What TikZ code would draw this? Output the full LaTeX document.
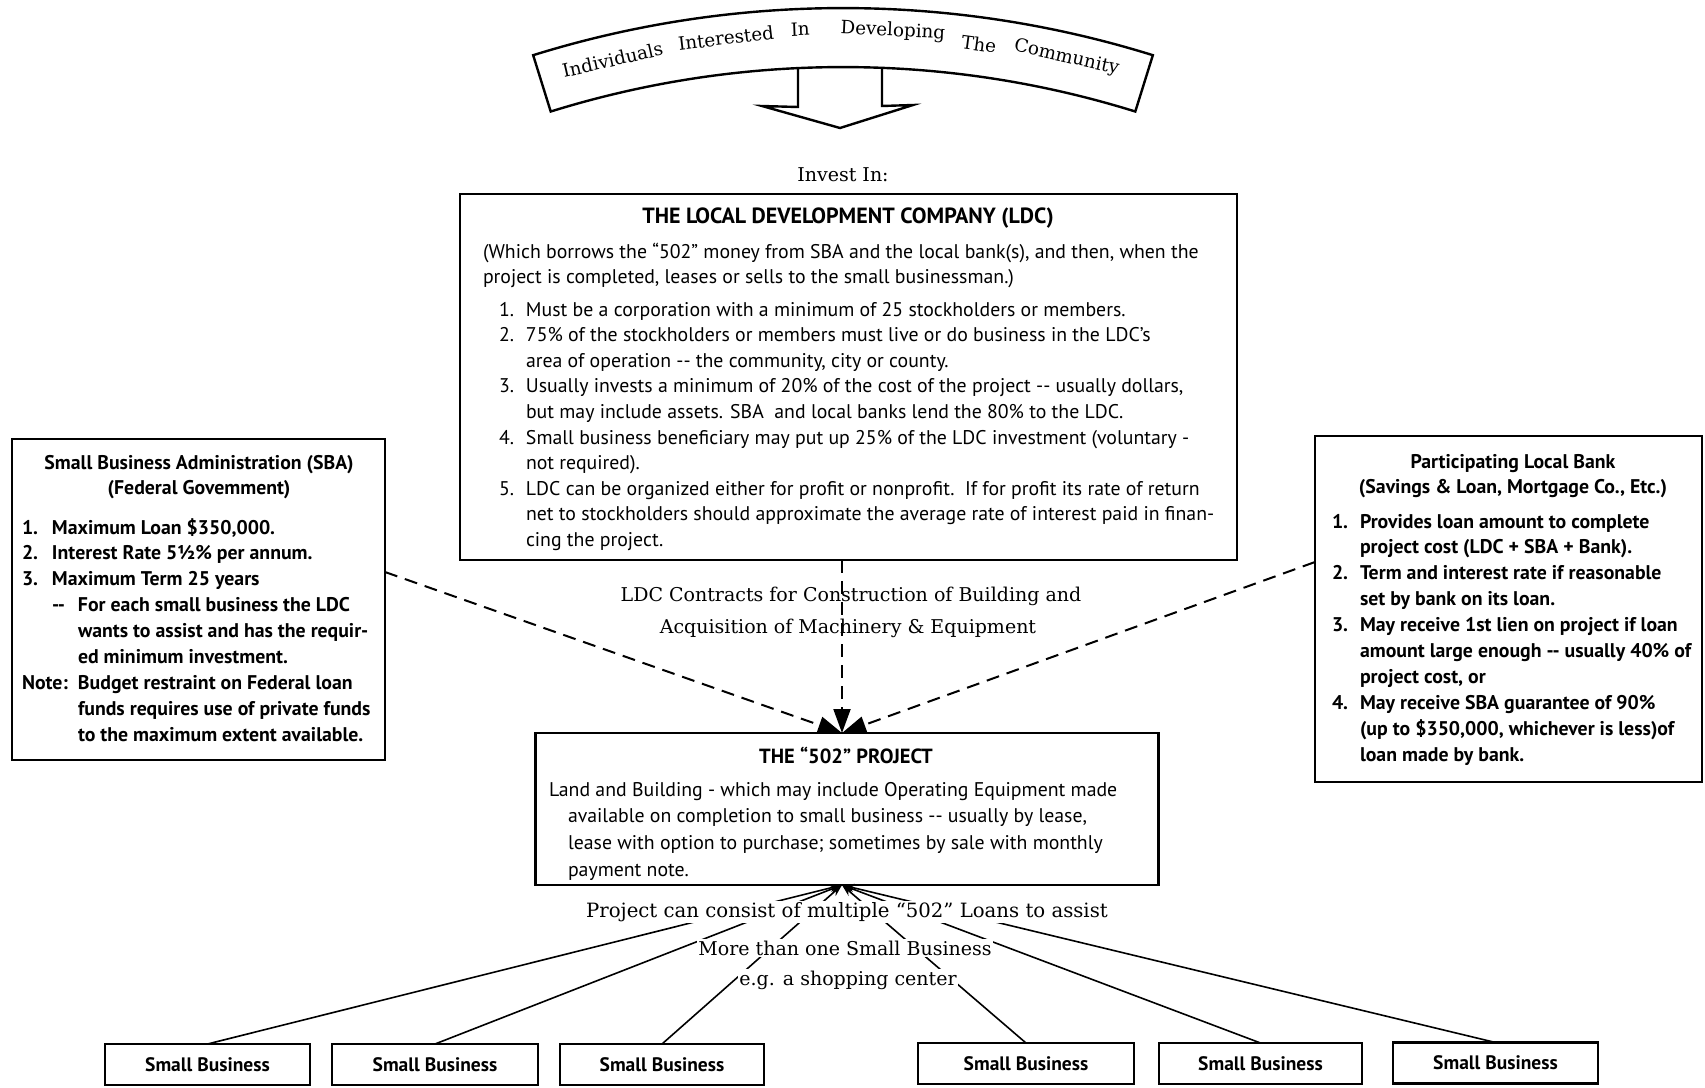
\documentclass[tikz,border=0pt]{standalone}
\usepackage{fontspec}
\newfontfamily\pts{PT Sans}
\newfontfamily\dvs{DejaVu Serif}
\usetikzlibrary{arrows.meta,calc}
\begin{document}
\begin{tikzpicture}[x=1pt,y=-1pt,
  box/.style={draw,line width=2.2pt,inner sep=0pt,outer sep=0pt},
  txt/.style={inner sep=0pt,outer sep=0pt,anchor=base west,align=left},
  ttl/.style={inner sep=0pt,outer sep=0pt,anchor=base},
  bodyA/.style={font=\pts\fontsize{19.8}{25.6}\selectfont},
  bodyB/.style={font=\pts\bfseries\fontsize{19.8}{25.9}\selectfont},
  bodyP/.style={font=\pts\fontsize{19.8}{26.7}\selectfont},
  ttlf/.style={font=\pts\bfseries\fontsize{22}{24}\selectfont},
  ttlg/.style={font=\pts\bfseries\fontsize{20.5}{24}\selectfont},
  serf/.style={font=\dvs\fontsize{19}{24}\selectfont},
  serb/.style={font=\dvs\fontsize{19.7}{24}\selectfont},
  banf/.style={font=\dvs\fontsize{18.3}{22}\selectfont},
  sbf/.style={font=\pts\bfseries\fontsize{19.5}{22}\selectfont},
  dsh/.style={line width=2pt,dash pattern=on 13pt off 8pt,-{Triangle[length=24pt,width=17pt]}},
  fan/.style={line width=1.6pt,-{Stealth[length=12pt,width=8pt]}},
  wtxt/.style={fill=white,inner sep=1.5pt,anchor=center}
]
\useasboundingbox (0,0) rectangle (1705,1087);

% banner with block arrow
\coordinate (bc) at (843,1050);
\draw[line width=2.4pt,line join=miter] (798,66) -- (798,107) -- (762,106) -- (840,128) -- (913,105) -- (882,106) -- (882,66);
\draw[line width=2.4pt,fill=white] ($(bc)+(-107.3:1042)$) arc[start angle=-107.3,end angle=-72.7,radius=1042]
  -- ($(bc)+(-72.7:983)$) arc[start angle=-72.7,end angle=-107.3,radius=983] -- cycle;
\begin{scope}[every node/.style={banf,inner sep=0pt}]
\node[rotate=13] (w1) at ($(bc)+(-103.1:1017)$) {Individuals};
\node[rotate=6.8] (w2) at ($(bc)+(-96.6:1019)$) {Interested};
\node[rotate=2.4] (w3) at ($(bc)+(-92.4:1022)$) {In};
\node[rotate=-2.7] (w4) at ($(bc)+(-87.2:1020)$) {Developing};
\node[rotate=-7.6] (w5) at ($(bc)+(-82.3:1015)$) {The};
\node[rotate=-12.6] (w6) at ($(bc)+(-77.3:1017)$) {Community};
\end{scope}

\node[ttl,serf] (invest) at (843,181) {Invest In:};

% LDC box
\node[box,minimum width=777pt,minimum height=366pt] (ldc) at (848.5,377) {};
\node[ttl,ttlf] (ldct) at (848,223) {THE LOCAL DEVELOPMENT COMPANY (LDC)};
\node[txt,bodyA] (ldcp) at (483,258) {\begin{tabular}[t]{@{}l@{}}
(Which borrows the “502” money from SBA and the local bank(s), and then, when the\\
project is completed, leases or sells to the small businessman.)
\end{tabular}};
\node[txt,bodyA] (ldcl) at (499,316) {\begin{tabular}[t]{@{}l@{}}
\makebox[27pt][l]{1.}Must be a corporation with a minimum of 25 stockholders or members.\\
\makebox[27pt][l]{2.}75\% of the stockholders or members must live or do business in the LDC’s\\
\hspace{27pt}area of operation -{}- the community, city or county.\\
\makebox[27pt][l]{3.}Usually invests a minimum of 20\% of the cost of the project -{}- usually dollars,\\
\hspace{27pt}but may include assets. SBA\ \ and local banks lend the 80\% to the LDC.\\
\makebox[27pt][l]{4.}Small business beneficiary may put up 25\% of the LDC investment (voluntary -\\
\hspace{27pt}not required).\\
\makebox[27pt][l]{5.}LDC can be organized either for profit or nonprofit.\ \ If for profit its rate of return\\
\hspace{27pt}net to stockholders should approximate the average rate of interest paid in finan-\\
\hspace{27pt}cing the project.
\end{tabular}};

% SBA box
\node[box,minimum width=373pt,minimum height=321pt] (sba) at (198.5,599.5) {};
\node[ttl,bodyB] (sbat) at (199,469) {\begin{tabular}[t]{@{}c@{}}
Small Business Administration (SBA)\\ (Federal Govemment)\end{tabular}};
\node[txt,bodyB] (sbal) at (22,534) {\begin{tabular}[t]{@{}l@{}}
\makebox[30pt][l]{1.}Maximum Loan \$350,000.\\
\makebox[30pt][l]{2.}Interest Rate 5½\% per annum.\\
\makebox[30pt][l]{3.}Maximum Term 25 years\\
\hspace{30pt}\makebox[26pt][l]{-{}-}For each small business the LDC\\
\hspace{56pt}wants to assist and has the requir-\\
\hspace{56pt}ed minimum investment.\\
\makebox[56pt][l]{Note:}Budget restraint on Federal loan\\
\hspace{56pt}funds requires use of private funds\\
\hspace{56pt}to the maximum extent available.
\end{tabular}};

% Bank box
\node[box,minimum width=387pt,minimum height=346pt] (bank) at (1508.5,609) {};
\node[ttl,bodyB] (bankt) at (1513,468) {\begin{tabular}[t]{@{}c@{}}
Participating Local Bank\\ (Savings \& Loan, Mortgage Co., Etc.)\end{tabular}};
\node[txt,bodyB] (bankl) at (1332,528) {\begin{tabular}[t]{@{}l@{}}
\makebox[28pt][l]{1.}Provides loan amount to complete\\
\hspace{28pt}project cost (LDC + SBA + Bank).\\
\makebox[28pt][l]{2.}Term and interest rate if reasonable\\
\hspace{28pt}set by bank on its loan.\\
\makebox[28pt][l]{3.}May receive 1st lien on project if loan\\
\hspace{28pt}amount large enough -{}- usually 40\% of\\
\hspace{28pt}project cost, or\\
\makebox[28pt][l]{4.}May receive SBA guarantee of 90\%\\
\hspace{28pt}(up to \$350,000, whichever is less)of\\
\hspace{28pt}loan made by bank.
\end{tabular}};

% 502 project box
\node[box,minimum width=623pt,minimum height=152pt] (proj) at (847,809) {};
\node[ttl,ttlg] (projt) at (846,763) {THE “502” PROJECT};
\node[txt,bodyP] (projb) at (549,796) {\begin{tabular}[t]{@{}l@{}}
Land and Building - which may include Operating Equipment made\\
\hspace{19pt}available on completion to small business -{}- usually by lease,\\
\hspace{19pt}lease with option to purchase; sometimes by sale with monthly\\
\hspace{19pt}payment note.
\end{tabular}};

% dashed connectors
\coordinate (pin) at (842,733);
\draw[dsh] (ldc.south -| pin) -- (pin);
\draw[dsh] ([yshift=27.5pt]sba.east) -- (pin);
\draw[dsh] ([yshift=47pt]bank.west) -- (pin);
\node[ttl,serf] (contr1) at (851,601) {LDC Contracts for Construction of Building and};
\node[ttl,serf] (contr2) at (848,633) {Acquisition of Machinery \& Equipment};

% small businesses
\node[box,sbf,minimum width=205pt,minimum height=41pt] (sb1) at (207.5,1064.5) {Small Business};
\node[box,sbf,minimum width=206pt,minimum height=41pt] (sb2) at (435,1064.5) {Small Business};
\node[box,sbf,minimum width=204pt,minimum height=41pt] (sb3) at (662,1064.5) {Small Business};
\node[box,sbf,minimum width=216pt,minimum height=41pt] (sb4) at (1026,1063.5) {Small Business};
\node[box,sbf,minimum width=203pt,minimum height=41pt] (sb5) at (1260.5,1063.5) {Small Business};
\node[box,sbf,minimum width=205pt,minimum height=41pt] (sb6) at (1495.5,1063) {Small Business};

\coordinate (pout) at (842,885);
\foreach \b in {sb1,sb2,sb3,sb4,sb5,sb6} \draw[fan] (\b.north) -- (pout);
\node[wtxt,serb] (m1) at (847,912) {Project can consist of multiple “502” Loans to assist};
\node[wtxt,serf] (m2) at (845,948) {More than one Small Business};
\node[wtxt,serf] (m3) at (848,980) {e.g. a shopping center};
\end{tikzpicture}
\end{document}
